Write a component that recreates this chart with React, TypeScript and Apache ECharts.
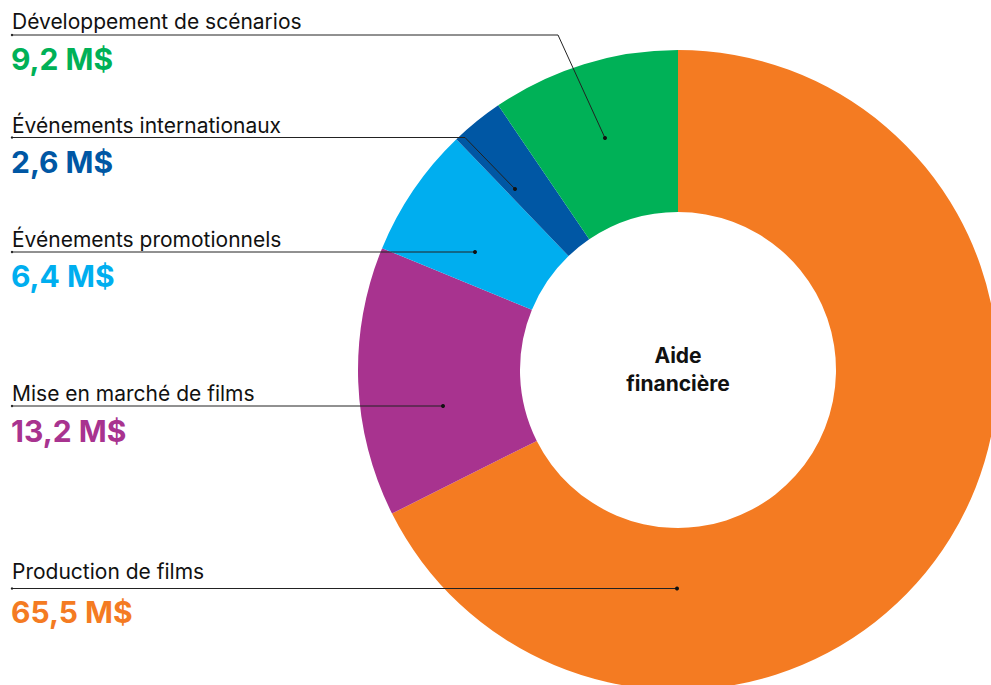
import React, { useEffect, useRef } from "react";
import * as echarts from "echarts";

// ---- Data ----
const categories = [
  "Production de films",
  "Mise en marché de films",
  "Événements promotionnels",
  "Événements internationaux",
  "Développement de scénarios",
];
const values = [65.5, 13.2, 6.4, 2.6, 9.2];
const valueLabels = ["65,5 M$", "13,2 M$", "6,4 M$", "2,6 M$", "9,2 M$"];
const colors = ["#F47B22", "#A8338F", "#00AEEF", "#0057A4", "#00B157"];
const centerTitle = "Aide\nfinancière";

// ---- Layout of annotations (positions only) ----
const labelLayout = [
  { titleY: 571, valueY: 612, line: [[12, 588.5], [677, 588.5]] },
  { titleY: 393, valueY: 431, line: [[12, 406], [443, 406]] },
  { titleY: 239, valueY: 276, line: [[12, 252], [475, 252]] },
  { titleY: 125, valueY: 162, line: [[12, 137.5], [465, 137.5], [515, 189]] },
  { titleY: 21, valueY: 59, line: [[12, 35], [558, 35], [605, 138]] },
];

const FONT = "Inter, 'Liberation Sans', Arial, sans-serif";

export default function App() {
  const ref = useRef<HTMLDivElement>(null);
  useEffect(() => {
    if (!ref.current) return;
    const chart = echarts.init(ref.current, undefined, { renderer: "svg" });
    const graphics: any[] = [];
    categories.forEach((name, i) => {
      const L = labelLayout[i];
      graphics.push({
        type: "polyline",
        z: 100,
        shape: { points: L.line },
        style: { stroke: "#222", lineWidth: 1, fill: null },
      });
      const last = L.line[L.line.length - 1];
      graphics.push({
        type: "circle",
        z: 101,
        shape: { cx: last[0], cy: last[1], r: 2 },
        style: { fill: "#111" },
      });
      graphics.push({
        type: "circle",
        z: 101,
        shape: { cx: L.line[0][0], cy: L.line[0][1], r: 1.2 },
        style: { fill: "#222" },
      });
      graphics.push({
        type: "text",
        z: 100,
        style: {
          text: name,
          x: 12,
          y: L.titleY,
          fill: "#111",
          font: `21px ${FONT}`,
          textAlign: "left",
          textVerticalAlign: "middle",
        },
      });
      graphics.push({
        type: "text",
        z: 100,
        style: {
          text: valueLabels[i],
          x: 11,
          y: L.valueY,
          fill: colors[i],
          font: `bold 30px ${FONT}`,
          textAlign: "left",
          textVerticalAlign: "middle",
        },
      });
    });
    graphics.push({
      type: "text",
      z: 100,
      style: {
        text: centerTitle,
        x: 678,
        y: 369,
        fill: "#111",
        font: `bold 21px ${FONT}`,
        lineHeight: 28,
        textAlign: "center",
        textVerticalAlign: "middle",
      },
    });

    chart.setOption({
      animation: false,
      backgroundColor: "#ffffff",
      series: [
        {
          type: "pie",
          center: [678, 370],
          radius: [158, 320],
          startAngle: 90,
          clockwise: true,
          avoidLabelOverlap: false,
          label: { show: false },
          labelLine: { show: false },
          itemStyle: { borderWidth: 0 },
          emphasis: { disabled: true },
          data: categories.map((n, i) => ({
            name: n,
            value: values[i],
            itemStyle: { color: colors[i] },
          })),
        },
      ],
      graphic: graphics,
    });
    return () => chart.dispose();
  }, []);
  return (
    <div
      ref={ref}
      style={{ position: "absolute", left: 0, top: 0, width: 991, height: 685 }}
    />
  );
}
